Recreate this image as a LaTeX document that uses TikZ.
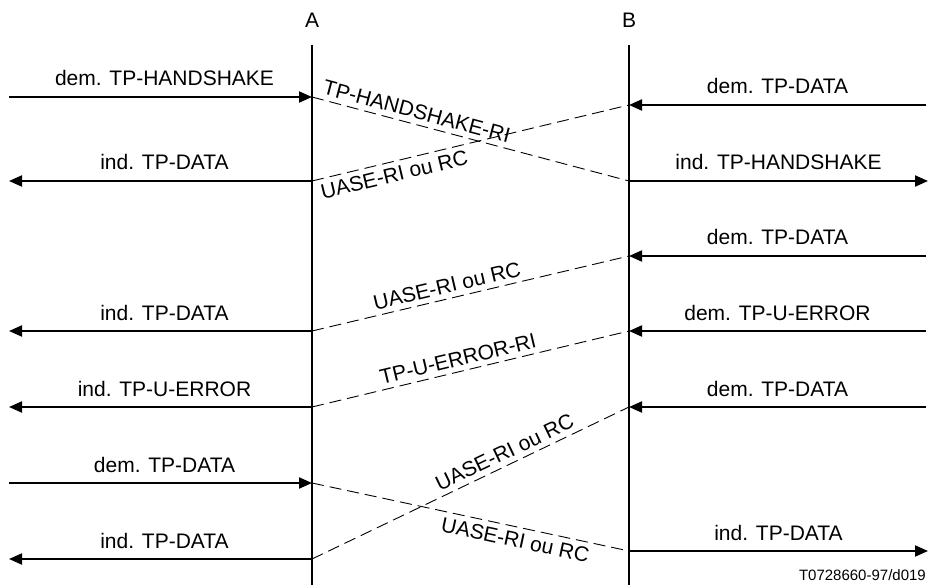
\documentclass[tikz,border=0pt]{standalone}
\usepackage{fontspec}
\setmainfont{Liberation Sans}
\usetikzlibrary{arrows.meta}
\begin{document}
\begin{tikzpicture}[x=1pt,y=1pt,
  lifeline/.style={line width=2pt},
  msg/.style={line width=2pt,-{Triangle[length=13pt,width=11pt]}},
  pdu/.style={line width=0.9pt,dash pattern=on 12pt off 6pt},
  txt/.style={font=\fontsize{21}{25}\selectfont},
  tag/.style={txt,midway,anchor=base,yshift=11pt,inner sep=0pt},
  ltag/.style={tag,xshift=4pt},
  slab/.style={txt,sloped,inner sep=5pt}]
\useasboundingbox (0,0) rectangle (937,-585);

% lifelines
\coordinate (Atop) at (312,-45);  \coordinate (Abot) at (312,-585);
\coordinate (Btop) at (629,-45);  \coordinate (Bbot) at (629,-585);
\node[txt] (nA) at (312,-20) {A};
\node[txt] (nB) at (629,-20) {B};
\draw[lifeline] (Atop) -- (Abot);
\draw[lifeline] (Btop) -- (Bbot);

% end points on the lifelines and at the edges
\coordinate (a1) at (312,-97);  \coordinate (l1) at (9,-97);
\coordinate (a2) at (312,-181); \coordinate (l2) at (9,-181);
\coordinate (a3) at (312,-331); \coordinate (l3) at (9,-331);
\coordinate (a4) at (312,-407); \coordinate (l4) at (9,-407);
\coordinate (a5) at (312,-483); \coordinate (l5) at (9,-483);
\coordinate (a6) at (312,-559); \coordinate (l6) at (9,-559);
\coordinate (b1) at (629,-105); \coordinate (r1) at (926,-105);
\coordinate (b2) at (629,-181); \coordinate (r2) at (928,-181);
\coordinate (b3) at (629,-256); \coordinate (r3) at (926,-256);
\coordinate (b4) at (629,-331); \coordinate (r4) at (926,-331);
\coordinate (b5) at (629,-407); \coordinate (r5) at (926,-407);
\coordinate (b6) at (629,-551); \coordinate (r6) at (928,-551);

% primitives on side A
\draw[msg] (l1) -- node[ltag] (m1) {dem. TP-HANDSHAKE} (a1);
\draw[msg] (a2) -- node[ltag] (m2) {ind. TP-DATA} (l2);
\draw[msg] (a3) -- node[ltag] (m3) {ind. TP-DATA} (l3);
\draw[msg] (a4) -- node[ltag] (m4) {ind. TP-U-ERROR} (l4);
\draw[msg] (l5) -- node[ltag] (m5) {dem. TP-DATA} (a5);
\draw[msg] (a6) -- node[ltag] (m6) {ind. TP-DATA} (l6);

% primitives on side B
\draw[msg] (r1) -- node[tag] (k1) {dem. TP-DATA} (b1);
\draw[msg] (b2) -- node[tag] (k2) {ind. TP-HANDSHAKE} (r2);
\draw[msg] (r3) -- node[tag] (k3) {dem. TP-DATA} (b3);
\draw[msg] (r4) -- node[tag] (k4) {dem. TP-U-ERROR} (b4);
\draw[msg] (r5) -- node[tag] (k5) {dem. TP-DATA} (b5);
\draw[msg] (b6) -- node[tag] (k6) {ind. TP-DATA} (r6);

% protocol data units
\draw[pdu] (a1) -- node[slab,above,pos=0.32] (p1) {TP-HANDSHAKE-RI} (b2);
\draw[pdu] (a2) -- node[slab,below,pos=0.25] (p2) {UASE-RI ou RC} (b1);
\draw[pdu] (a3) -- node[slab,above,pos=0.435] (p3) {UASE-RI ou RC} (b3);
\draw[pdu] (a4) -- node[slab,above,pos=0.47] (p4) {TP-U-ERROR-RI} (b4);
\draw[pdu] (a6) -- node[slab,above,pos=0.625] (p5) {UASE-RI ou RC} (b5);
\draw[pdu] (a5) -- node[slab,below,pos=0.65] (p6) {UASE-RI ou RC} (b6);

\node[font=\fontsize{15}{17}\selectfont,anchor=base east,inner sep=0pt] (ref) at (926,-580) {T0728660-97/d019};
\end{tikzpicture}
\end{document}
